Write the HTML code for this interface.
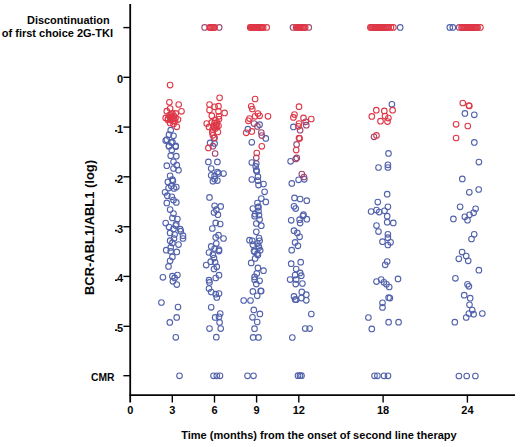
<!DOCTYPE html>
<html><head><meta charset="utf-8"><style>
html,body{margin:0;padding:0;background:#fff;}
body{width:520px;height:447px;overflow:hidden;font-family:"Liberation Sans",sans-serif;}
svg{display:block;}
</style></head><body>
<svg width="520" height="447" viewBox="0 0 520 447">
<g stroke="#050505" stroke-width="1.8" fill="none">
<line x1="130.2" y1="4" x2="130.2" y2="402.6"/>
<line x1="129.4" y1="395.15" x2="515" y2="395.15"/>
<line x1="123.4" y1="27.6" x2="130.2" y2="27.6" stroke-width="1.4"/>
<line x1="123.4" y1="77.3" x2="130.2" y2="77.3" stroke-width="1.4"/>
<line x1="123.4" y1="127.1" x2="130.2" y2="127.1" stroke-width="1.4"/>
<line x1="123.4" y1="176.8" x2="130.2" y2="176.8" stroke-width="1.4"/>
<line x1="123.4" y1="226.75" x2="130.2" y2="226.75" stroke-width="1.4"/>
<line x1="123.4" y1="276.4" x2="130.2" y2="276.4" stroke-width="1.4"/>
<line x1="123.4" y1="326.3" x2="130.2" y2="326.3" stroke-width="1.4"/>
<line x1="123.4" y1="375.7" x2="130.2" y2="375.7" stroke-width="1.4"/>
<line x1="172.3" y1="395.1" x2="172.3" y2="402.6" stroke-width="1.4"/>
<line x1="214.5" y1="395.1" x2="214.5" y2="402.6" stroke-width="1.4"/>
<line x1="256.6" y1="395.1" x2="256.6" y2="402.6" stroke-width="1.4"/>
<line x1="298.8" y1="395.1" x2="298.8" y2="402.6" stroke-width="1.4"/>
<line x1="383.1" y1="395.1" x2="383.1" y2="402.6" stroke-width="1.4"/>
<line x1="467.4" y1="395.1" x2="467.4" y2="402.6" stroke-width="1.4"/>
</g>
<g fill="none" stroke="#5262ac" stroke-width="1.1"><circle cx="170.7" cy="130.2" r="2.8" />
<circle cx="173.5" cy="135.8" r="2.8" />
<circle cx="169.0" cy="134.7" r="2.8" />
<circle cx="166.8" cy="139.7" r="2.8" />
<circle cx="171.3" cy="142.5" r="2.8" />
<circle cx="175.7" cy="145.9" r="2.8" />
<circle cx="169.0" cy="145.9" r="2.8" />
<circle cx="165.7" cy="140.6" r="2.8" />
<circle cx="172.4" cy="142.2" r="2.8" />
<circle cx="169.0" cy="146.2" r="2.8" />
<circle cx="175.7" cy="146.7" r="2.8" />
<circle cx="171.8" cy="150.1" r="2.8" />
<circle cx="170.7" cy="155.7" r="2.8" />
<circle cx="176.3" cy="156.2" r="2.8" />
<circle cx="173.5" cy="161.8" r="2.8" />
<circle cx="166.8" cy="165.7" r="2.8" />
<circle cx="176.8" cy="165.2" r="2.8" />
<circle cx="173.5" cy="168.5" r="2.8" />
<circle cx="178.5" cy="170.2" r="2.8" />
<circle cx="170.1" cy="175.8" r="2.8" />
<circle cx="172.4" cy="179.7" r="2.8" />
<circle cx="167.9" cy="181.9" r="2.8" />
<circle cx="171.3" cy="185.9" r="2.8" />
<circle cx="176.3" cy="187.0" r="2.8" />
<circle cx="168.5" cy="188.1" r="2.8" />
<circle cx="172.9" cy="181.1" r="2.8" />
<circle cx="174.0" cy="188.4" r="2.8" />
<circle cx="165.1" cy="192.3" r="2.8" />
<circle cx="167.3" cy="195.7" r="2.8" />
<circle cx="171.8" cy="196.8" r="2.8" />
<circle cx="173.5" cy="200.1" r="2.8" />
<circle cx="176.3" cy="202.4" r="2.8" />
<circle cx="166.8" cy="202.9" r="2.8" />
<circle cx="170.1" cy="209.6" r="2.8" />
<circle cx="173.5" cy="213.6" r="2.8" />
<circle cx="172.4" cy="218.0" r="2.8" />
<circle cx="177.4" cy="219.1" r="2.8" />
<circle cx="165.7" cy="223.1" r="2.8" />
<circle cx="176.3" cy="224.2" r="2.8" />
<circle cx="169.0" cy="227.0" r="2.8" />
<circle cx="180.2" cy="229.2" r="2.8" />
<circle cx="175.7" cy="225.6" r="2.8" />
<circle cx="173.5" cy="228.9" r="2.8" />
<circle cx="180.8" cy="231.2" r="2.8" />
<circle cx="170.1" cy="232.9" r="2.8" />
<circle cx="174.6" cy="234.5" r="2.8" />
<circle cx="183.0" cy="235.7" r="2.8" />
<circle cx="183.0" cy="238.5" r="2.8" />
<circle cx="174.0" cy="238.5" r="2.8" />
<circle cx="170.1" cy="240.7" r="2.8" />
<circle cx="172.4" cy="242.9" r="2.8" />
<circle cx="178.5" cy="244.6" r="2.8" />
<circle cx="170.7" cy="247.4" r="2.8" />
<circle cx="166.2" cy="250.2" r="2.8" />
<circle cx="170.7" cy="251.3" r="2.8" />
<circle cx="176.8" cy="251.9" r="2.8" />
<circle cx="172.4" cy="256.9" r="2.8" />
<circle cx="170.1" cy="260.8" r="2.8" />
<circle cx="168.5" cy="266.4" r="2.8" />
<circle cx="162.9" cy="277.3" r="2.8" />
<circle cx="172.4" cy="276.2" r="2.8" />
<circle cx="177.4" cy="275.1" r="2.8" />
<circle cx="174.6" cy="277.9" r="2.8" />
<circle cx="172.9" cy="281.3" r="2.8" />
<circle cx="176.8" cy="284.6" r="2.8" />
<circle cx="161.4" cy="302.5" r="2.8" />
<circle cx="178.0" cy="307.1" r="2.8" />
<circle cx="176.7" cy="317.4" r="2.8" />
<circle cx="169.8" cy="322.4" r="2.8" />
<circle cx="175.8" cy="337.3" r="2.8" />
<circle cx="179.5" cy="375.8" r="2.8" />
<circle cx="214.0" cy="138.1" r="2.8" />
<circle cx="210.1" cy="142.9" r="2.8" />
<circle cx="214.6" cy="143.4" r="2.8" />
<circle cx="208.4" cy="161.9" r="2.8" />
<circle cx="217.4" cy="161.9" r="2.8" />
<circle cx="211.2" cy="168.6" r="2.8" />
<circle cx="217.4" cy="172.0" r="2.8" />
<circle cx="223.5" cy="173.6" r="2.8" />
<circle cx="211.2" cy="175.3" r="2.8" />
<circle cx="214.6" cy="175.9" r="2.8" />
<circle cx="218.5" cy="173.4" r="2.8" />
<circle cx="212.9" cy="181.2" r="2.8" />
<circle cx="217.4" cy="180.6" r="2.8" />
<circle cx="214.6" cy="179.0" r="2.8" />
<circle cx="209.5" cy="197.4" r="2.8" />
<circle cx="214.6" cy="205.8" r="2.8" />
<circle cx="220.7" cy="206.4" r="2.8" />
<circle cx="216.3" cy="209.7" r="2.8" />
<circle cx="214.0" cy="212.5" r="2.8" />
<circle cx="217.9" cy="214.7" r="2.8" />
<circle cx="215.7" cy="222.9" r="2.8" />
<circle cx="220.2" cy="224.0" r="2.8" />
<circle cx="212.3" cy="228.5" r="2.8" />
<circle cx="218.5" cy="235.2" r="2.8" />
<circle cx="215.7" cy="237.4" r="2.8" />
<circle cx="223.5" cy="238.5" r="2.8" />
<circle cx="216.3" cy="243.6" r="2.8" />
<circle cx="211.2" cy="246.4" r="2.8" />
<circle cx="214.6" cy="248.6" r="2.8" />
<circle cx="219.0" cy="249.7" r="2.8" />
<circle cx="209.0" cy="252.5" r="2.8" />
<circle cx="212.9" cy="254.7" r="2.8" />
<circle cx="214.0" cy="258.1" r="2.8" />
<circle cx="219.0" cy="251.1" r="2.8" />
<circle cx="210.7" cy="261.7" r="2.8" />
<circle cx="206.2" cy="265.1" r="2.8" />
<circle cx="215.1" cy="262.3" r="2.8" />
<circle cx="216.8" cy="266.8" r="2.8" />
<circle cx="214.0" cy="269.0" r="2.8" />
<circle cx="219.0" cy="275.2" r="2.8" />
<circle cx="215.7" cy="278.0" r="2.8" />
<circle cx="209.0" cy="280.2" r="2.8" />
<circle cx="209.5" cy="282.4" r="2.8" />
<circle cx="209.0" cy="288.6" r="2.8" />
<circle cx="211.2" cy="292.0" r="2.8" />
<circle cx="215.7" cy="294.2" r="2.8" />
<circle cx="219.0" cy="293.6" r="2.8" />
<circle cx="216.8" cy="297.5" r="2.8" />
<circle cx="211.2" cy="307.3" r="2.8" />
<circle cx="220.2" cy="313.5" r="2.8" />
<circle cx="215.1" cy="317.4" r="2.8" />
<circle cx="219.0" cy="316.8" r="2.8" />
<circle cx="219.6" cy="322.4" r="2.8" />
<circle cx="209.5" cy="328.6" r="2.8" />
<circle cx="220.7" cy="328.6" r="2.8" />
<circle cx="216.3" cy="337.2" r="2.8" />
<circle cx="213.5" cy="375.8" r="2.8" />
<circle cx="216.8" cy="375.8" r="2.8" />
<circle cx="220.0" cy="375.8" r="2.8" />
<circle cx="247.5" cy="375.8" r="2.8" />
<circle cx="253.5" cy="375.8" r="2.8" />
<circle cx="259.6" cy="124.7" r="2.8" />
<circle cx="247.9" cy="129.2" r="2.8" />
<circle cx="265.8" cy="138.4" r="2.8" />
<circle cx="251.8" cy="142.3" r="2.8" />
<circle cx="251.8" cy="162.5" r="2.8" />
<circle cx="256.3" cy="163.6" r="2.8" />
<circle cx="255.7" cy="166.4" r="2.8" />
<circle cx="256.3" cy="170.3" r="2.8" />
<circle cx="256.8" cy="171.2" r="2.8" />
<circle cx="257.9" cy="176.7" r="2.8" />
<circle cx="251.8" cy="179.5" r="2.8" />
<circle cx="257.9" cy="180.7" r="2.8" />
<circle cx="258.5" cy="185.1" r="2.8" />
<circle cx="263.5" cy="184.0" r="2.8" />
<circle cx="264.6" cy="191.8" r="2.8" />
<circle cx="261.3" cy="198.6" r="2.8" />
<circle cx="265.8" cy="201.9" r="2.8" />
<circle cx="257.4" cy="203.0" r="2.8" />
<circle cx="258.5" cy="206.9" r="2.8" />
<circle cx="252.9" cy="208.6" r="2.8" />
<circle cx="258.5" cy="210.9" r="2.8" />
<circle cx="255.1" cy="214.2" r="2.8" />
<circle cx="257.9" cy="207.2" r="2.8" />
<circle cx="254.6" cy="216.2" r="2.8" />
<circle cx="259.0" cy="215.1" r="2.8" />
<circle cx="259.6" cy="219.5" r="2.8" />
<circle cx="256.3" cy="223.5" r="2.8" />
<circle cx="261.3" cy="225.7" r="2.8" />
<circle cx="256.3" cy="231.8" r="2.8" />
<circle cx="249.5" cy="240.2" r="2.8" />
<circle cx="252.3" cy="240.8" r="2.8" />
<circle cx="259.0" cy="238.0" r="2.8" />
<circle cx="259.6" cy="240.8" r="2.8" />
<circle cx="252.9" cy="244.7" r="2.8" />
<circle cx="257.4" cy="243.6" r="2.8" />
<circle cx="259.0" cy="247.5" r="2.8" />
<circle cx="254.0" cy="250.9" r="2.8" />
<circle cx="260.2" cy="250.3" r="2.8" />
<circle cx="257.4" cy="253.7" r="2.8" />
<circle cx="258.5" cy="246.1" r="2.8" />
<circle cx="254.6" cy="251.7" r="2.8" />
<circle cx="257.9" cy="255.1" r="2.8" />
<circle cx="255.1" cy="258.4" r="2.8" />
<circle cx="251.2" cy="262.9" r="2.8" />
<circle cx="257.9" cy="267.9" r="2.8" />
<circle cx="263.5" cy="270.7" r="2.8" />
<circle cx="256.8" cy="273.5" r="2.8" />
<circle cx="254.6" cy="276.9" r="2.8" />
<circle cx="259.6" cy="280.8" r="2.8" />
<circle cx="254.6" cy="279.7" r="2.8" />
<circle cx="256.3" cy="284.1" r="2.8" />
<circle cx="252.9" cy="291.4" r="2.8" />
<circle cx="260.7" cy="290.9" r="2.8" />
<circle cx="261.2" cy="291.0" r="2.8" />
<circle cx="257.2" cy="295.8" r="2.8" />
<circle cx="243.7" cy="300.5" r="2.8" />
<circle cx="250.5" cy="300.5" r="2.8" />
<circle cx="253.8" cy="309.9" r="2.8" />
<circle cx="259.9" cy="313.9" r="2.8" />
<circle cx="252.5" cy="317.3" r="2.8" />
<circle cx="257.2" cy="322.0" r="2.8" />
<circle cx="254.5" cy="328.7" r="2.8" />
<circle cx="253.1" cy="337.4" r="2.8" />
<circle cx="258.5" cy="337.4" r="2.8" />
<circle cx="293.4" cy="126.9" r="2.8" />
<circle cx="290.6" cy="161.3" r="2.8" />
<circle cx="298.6" cy="179.8" r="2.8" />
<circle cx="304.3" cy="179.3" r="2.8" />
<circle cx="291.8" cy="183.4" r="2.8" />
<circle cx="294.5" cy="197.9" r="2.8" />
<circle cx="300.1" cy="199.0" r="2.8" />
<circle cx="306.8" cy="200.7" r="2.8" />
<circle cx="294.0" cy="206.3" r="2.8" />
<circle cx="295.7" cy="208.6" r="2.8" />
<circle cx="303.5" cy="214.7" r="2.8" />
<circle cx="291.2" cy="220.3" r="2.8" />
<circle cx="299.6" cy="219.7" r="2.8" />
<circle cx="306.8" cy="219.2" r="2.8" />
<circle cx="300.1" cy="223.1" r="2.8" />
<circle cx="302.9" cy="216.1" r="2.8" />
<circle cx="294.0" cy="230.7" r="2.8" />
<circle cx="297.3" cy="232.9" r="2.8" />
<circle cx="299.6" cy="236.8" r="2.8" />
<circle cx="295.1" cy="242.4" r="2.8" />
<circle cx="297.9" cy="245.8" r="2.8" />
<circle cx="291.7" cy="250.2" r="2.8" />
<circle cx="291.2" cy="263.7" r="2.8" />
<circle cx="300.7" cy="262.2" r="2.8" />
<circle cx="296.2" cy="269.0" r="2.8" />
<circle cx="300.1" cy="272.9" r="2.8" />
<circle cx="295.1" cy="275.1" r="2.8" />
<circle cx="301.3" cy="275.7" r="2.8" />
<circle cx="290.1" cy="279.6" r="2.8" />
<circle cx="296.2" cy="279.6" r="2.8" />
<circle cx="295.7" cy="284.1" r="2.8" />
<circle cx="302.4" cy="283.5" r="2.8" />
<circle cx="301.8" cy="291.9" r="2.8" />
<circle cx="306.3" cy="294.7" r="2.8" />
<circle cx="294.0" cy="296.4" r="2.8" />
<circle cx="301.3" cy="298.1" r="2.8" />
<circle cx="296.2" cy="299.7" r="2.8" />
<circle cx="306.3" cy="300.3" r="2.8" />
<circle cx="295.1" cy="299.5" r="2.8" />
<circle cx="311.3" cy="314.0" r="2.8" />
<circle cx="305.2" cy="328.6" r="2.8" />
<circle cx="309.6" cy="328.6" r="2.8" />
<circle cx="292.3" cy="337.5" r="2.8" />
<circle cx="298.0" cy="375.7" r="2.8" />
<circle cx="300.0" cy="375.7" r="2.8" />
<circle cx="301.5" cy="375.7" r="2.8" />
<circle cx="391.9" cy="104.3" r="2.8" />
<circle cx="388.5" cy="153.4" r="2.8" />
<circle cx="378.5" cy="167.5" r="2.8" />
<circle cx="387.9" cy="164.8" r="2.8" />
<circle cx="387.9" cy="167.5" r="2.8" />
<circle cx="387.2" cy="194.2" r="2.8" />
<circle cx="377.8" cy="202.1" r="2.8" />
<circle cx="387.9" cy="206.8" r="2.8" />
<circle cx="371.1" cy="211.5" r="2.8" />
<circle cx="376.5" cy="210.1" r="2.8" />
<circle cx="379.2" cy="212.1" r="2.8" />
<circle cx="384.5" cy="210.8" r="2.8" />
<circle cx="387.2" cy="216.2" r="2.8" />
<circle cx="387.2" cy="222.2" r="2.8" />
<circle cx="393.3" cy="222.9" r="2.8" />
<circle cx="376.5" cy="225.6" r="2.8" />
<circle cx="378.5" cy="231.6" r="2.8" />
<circle cx="387.9" cy="234.3" r="2.8" />
<circle cx="387.9" cy="237.7" r="2.8" />
<circle cx="382.5" cy="241.7" r="2.8" />
<circle cx="390.6" cy="242.3" r="2.8" />
<circle cx="387.9" cy="245.0" r="2.8" />
<circle cx="387.2" cy="261.5" r="2.8" />
<circle cx="385.2" cy="264.8" r="2.8" />
<circle cx="398.0" cy="278.9" r="2.8" />
<circle cx="376.5" cy="281.6" r="2.8" />
<circle cx="381.2" cy="279.6" r="2.8" />
<circle cx="383.9" cy="282.3" r="2.8" />
<circle cx="386.5" cy="284.3" r="2.8" />
<circle cx="389.2" cy="287.0" r="2.8" />
<circle cx="388.6" cy="297.7" r="2.8" />
<circle cx="389.9" cy="298.1" r="2.8" />
<circle cx="382.5" cy="302.8" r="2.8" />
<circle cx="382.5" cy="307.4" r="2.8" />
<circle cx="368.4" cy="317.5" r="2.8" />
<circle cx="388.6" cy="322.2" r="2.8" />
<circle cx="398.6" cy="322.2" r="2.8" />
<circle cx="371.8" cy="328.9" r="2.8" />
<circle cx="374.5" cy="375.8" r="2.8" />
<circle cx="377.4" cy="375.8" r="2.8" />
<circle cx="384.0" cy="375.8" r="2.8" />
<circle cx="388.0" cy="375.8" r="2.8" />
<circle cx="464.9" cy="113.4" r="2.8" />
<circle cx="474.3" cy="114.8" r="2.8" />
<circle cx="474.3" cy="142.4" r="2.8" />
<circle cx="478.9" cy="162.1" r="2.8" />
<circle cx="462.3" cy="178.9" r="2.8" />
<circle cx="478.7" cy="189.5" r="2.8" />
<circle cx="469.3" cy="192.3" r="2.8" />
<circle cx="460.1" cy="206.8" r="2.8" />
<circle cx="475.6" cy="208.8" r="2.8" />
<circle cx="473.6" cy="212.8" r="2.8" />
<circle cx="469.5" cy="214.8" r="2.8" />
<circle cx="464.8" cy="216.8" r="2.8" />
<circle cx="467.5" cy="220.2" r="2.8" />
<circle cx="453.4" cy="218.9" r="2.8" />
<circle cx="474.2" cy="234.3" r="2.8" />
<circle cx="471.5" cy="239.0" r="2.8" />
<circle cx="462.1" cy="252.1" r="2.8" />
<circle cx="466.2" cy="256.1" r="2.8" />
<circle cx="458.8" cy="258.8" r="2.8" />
<circle cx="468.2" cy="260.8" r="2.8" />
<circle cx="478.9" cy="270.2" r="2.8" />
<circle cx="455.4" cy="278.3" r="2.8" />
<circle cx="467.5" cy="284.3" r="2.8" />
<circle cx="468.9" cy="286.3" r="2.8" />
<circle cx="464.2" cy="295.2" r="2.8" />
<circle cx="470.2" cy="298.2" r="2.8" />
<circle cx="469.5" cy="304.8" r="2.8" />
<circle cx="472.2" cy="310.1" r="2.8" />
<circle cx="468.9" cy="313.5" r="2.8" />
<circle cx="473.6" cy="314.2" r="2.8" />
<circle cx="466.2" cy="317.5" r="2.8" />
<circle cx="482.3" cy="313.5" r="2.8" />
<circle cx="454.8" cy="322.2" r="2.8" />
<circle cx="458.9" cy="376.0" r="2.8" />
<circle cx="466.7" cy="376.0" r="2.8" />
<circle cx="475.4" cy="376.0" r="2.8" /></g>
<g fill="none" stroke="#9a4674" stroke-width="1.1"><circle cx="212.9" cy="146.2" r="2.8" />
<circle cx="215.1" cy="153.5" r="2.8" />
<circle cx="254.0" cy="123.6" r="2.8" />
<circle cx="257.4" cy="126.4" r="2.8" />
<circle cx="261.3" cy="132.5" r="2.8" />
<circle cx="261.8" cy="135.6" r="2.8" />
<circle cx="256.3" cy="157.8" r="2.8" />
<circle cx="305.7" cy="121.8" r="2.8" />
<circle cx="306.3" cy="125.2" r="2.8" />
<circle cx="300.1" cy="130.2" r="2.8" />
<circle cx="296.6" cy="144.4" r="2.8" />
<circle cx="296.8" cy="157.9" r="2.8" />
<circle cx="295.7" cy="159.0" r="2.8" />
<circle cx="301.8" cy="174.1" r="2.8" />
<circle cx="304.0" cy="177.0" r="2.8" />
<circle cx="374.0" cy="136.8" r="2.8" /></g>
<g fill="none" stroke="#de3848" stroke-width="1.1"><circle cx="170.1" cy="85.1" r="2.8" />
<circle cx="169.4" cy="102.3" r="2.8" />
<circle cx="178.7" cy="104.5" r="2.8" />
<circle cx="181.5" cy="111.3" r="2.8" />
<circle cx="170.1" cy="108.5" r="2.8" />
<circle cx="166.8" cy="111.2" r="2.8" />
<circle cx="165.7" cy="117.9" r="2.8" />
<circle cx="170.1" cy="116.8" r="2.8" />
<circle cx="173.5" cy="119.0" r="2.8" />
<circle cx="178.0" cy="119.6" r="2.8" />
<circle cx="175.7" cy="113.4" r="2.8" />
<circle cx="172.4" cy="113.4" r="2.8" />
<circle cx="170.1" cy="122.9" r="2.8" />
<circle cx="176.8" cy="126.8" r="2.8" />
<circle cx="173.5" cy="124.0" r="2.8" />
<circle cx="171.3" cy="117.5" r="2.8" />
<circle cx="168.0" cy="120.0" r="2.8" />
<circle cx="175.0" cy="121.0" r="2.8" />
<circle cx="169.5" cy="115.0" r="2.8" />
<circle cx="172.0" cy="117.0" r="2.8" />
<circle cx="174.0" cy="116.0" r="2.8" />
<circle cx="170.5" cy="119.5" r="2.8" />
<circle cx="173.0" cy="121.0" r="2.8" />
<circle cx="168.0" cy="118.5" r="2.8" />
<circle cx="175.5" cy="118.0" r="2.8" />
<circle cx="171.5" cy="114.5" r="2.8" />
<circle cx="219.6" cy="97.8" r="2.8" />
<circle cx="209.5" cy="104.5" r="2.8" />
<circle cx="214.6" cy="106.8" r="2.8" />
<circle cx="218.5" cy="106.2" r="2.8" />
<circle cx="209.5" cy="110.1" r="2.8" />
<circle cx="218.5" cy="111.3" r="2.8" />
<circle cx="224.6" cy="112.9" r="2.8" />
<circle cx="211.8" cy="115.7" r="2.8" />
<circle cx="219.0" cy="116.3" r="2.8" />
<circle cx="219.0" cy="119.1" r="2.8" />
<circle cx="215.1" cy="120.2" r="2.8" />
<circle cx="211.8" cy="122.4" r="2.8" />
<circle cx="206.7" cy="123.6" r="2.8" />
<circle cx="216.3" cy="124.7" r="2.8" />
<circle cx="209.0" cy="126.9" r="2.8" />
<circle cx="218.5" cy="125.8" r="2.8" />
<circle cx="214.0" cy="127.5" r="2.8" />
<circle cx="217.9" cy="132.0" r="2.8" />
<circle cx="212.3" cy="132.5" r="2.8" />
<circle cx="212.9" cy="135.3" r="2.8" />
<circle cx="214.6" cy="137.8" r="2.8" />
<circle cx="208.4" cy="147.9" r="2.8" />
<circle cx="214.5" cy="123.0" r="2.8" />
<circle cx="216.5" cy="126.5" r="2.8" />
<circle cx="213.5" cy="126.0" r="2.8" />
<circle cx="215.5" cy="128.5" r="2.8" />
<circle cx="217.0" cy="122.5" r="2.8" />
<circle cx="212.5" cy="129.5" r="2.8" />
<circle cx="255.1" cy="99.0" r="2.8" />
<circle cx="251.2" cy="106.3" r="2.8" />
<circle cx="252.3" cy="109.0" r="2.8" />
<circle cx="257.9" cy="113.5" r="2.8" />
<circle cx="259.6" cy="115.8" r="2.8" />
<circle cx="255.1" cy="116.3" r="2.8" />
<circle cx="268.0" cy="116.3" r="2.8" />
<circle cx="249.5" cy="118.6" r="2.8" />
<circle cx="248.4" cy="120.8" r="2.8" />
<circle cx="246.2" cy="132.8" r="2.8" />
<circle cx="251.8" cy="131.4" r="2.8" />
<circle cx="261.8" cy="146.3" r="2.8" />
<circle cx="256.8" cy="153.0" r="2.8" />
<circle cx="299.0" cy="106.7" r="2.8" />
<circle cx="294.5" cy="114.6" r="2.8" />
<circle cx="293.4" cy="117.4" r="2.8" />
<circle cx="303.5" cy="117.9" r="2.8" />
<circle cx="311.3" cy="119.0" r="2.8" />
<circle cx="299.0" cy="123.5" r="2.8" />
<circle cx="298.5" cy="126.3" r="2.8" />
<circle cx="299.0" cy="138.1" r="2.8" />
<circle cx="299.6" cy="138.4" r="2.8" />
<circle cx="296.2" cy="150.1" r="2.8" />
<circle cx="376.3" cy="110.2" r="2.8" />
<circle cx="384.3" cy="110.9" r="2.8" />
<circle cx="392.6" cy="110.2" r="2.8" />
<circle cx="371.8" cy="116.4" r="2.8" />
<circle cx="385.0" cy="116.1" r="2.8" />
<circle cx="388.4" cy="118.1" r="2.8" />
<circle cx="380.5" cy="121.2" r="2.8" />
<circle cx="387.5" cy="121.6" r="2.8" />
<circle cx="376.5" cy="135.4" r="2.8" />
<circle cx="462.8" cy="103.0" r="2.8" />
<circle cx="468.9" cy="105.5" r="2.8" />
<circle cx="469.3" cy="106.0" r="2.8" />
<circle cx="456.1" cy="124.3" r="2.8" />
<circle cx="467.8" cy="126.0" r="2.8" />
<circle cx="456.1" cy="138.0" r="2.8" /></g>
<g fill="none" stroke="#5262ac" stroke-width="1.1"><circle cx="400.2" cy="27.4" r="2.8" />
<circle cx="449.8" cy="27.4" r="2.8" />
<circle cx="452.8" cy="27.4" r="2.8" /></g>
<g fill="none" stroke="#9c4c74" stroke-width="1.1"><circle cx="204.6" cy="27.4" r="2.8" />
<circle cx="219.2" cy="27.4" r="2.8" />
<circle cx="293.0" cy="27.4" r="2.8" />
<circle cx="308.8" cy="27.4" r="2.8" />
<circle cx="459.2" cy="27.4" r="2.8" /></g>
<g fill="none" stroke="#de3848" stroke-width="1.1"><circle cx="209.6" cy="27.4" r="2.8" />
<circle cx="210.6" cy="27.4" r="2.8" />
<circle cx="211.6" cy="27.4" r="2.8" />
<circle cx="212.6" cy="27.4" r="2.8" />
<circle cx="213.6" cy="27.4" r="2.8" />
<circle cx="214.6" cy="27.4" r="2.8" />
<circle cx="250.2" cy="27.4" r="2.8" />
<circle cx="251.2" cy="27.4" r="2.8" />
<circle cx="252.2" cy="27.4" r="2.8" />
<circle cx="253.2" cy="27.4" r="2.8" />
<circle cx="254.2" cy="27.4" r="2.8" />
<circle cx="255.2" cy="27.4" r="2.8" />
<circle cx="256.2" cy="27.4" r="2.8" />
<circle cx="257.2" cy="27.4" r="2.8" />
<circle cx="258.2" cy="27.4" r="2.8" />
<circle cx="259.2" cy="27.4" r="2.8" />
<circle cx="260.2" cy="27.4" r="2.8" />
<circle cx="261.2" cy="27.4" r="2.8" />
<circle cx="262.2" cy="27.4" r="2.8" />
<circle cx="263.2" cy="27.4" r="2.8" />
<circle cx="266.7" cy="27.4" r="2.8" />
<circle cx="296.2" cy="27.4" r="2.8" />
<circle cx="297.2" cy="27.4" r="2.8" />
<circle cx="298.2" cy="27.4" r="2.8" />
<circle cx="299.2" cy="27.4" r="2.8" />
<circle cx="300.2" cy="27.4" r="2.8" />
<circle cx="301.2" cy="27.4" r="2.8" />
<circle cx="302.2" cy="27.4" r="2.8" />
<circle cx="303.2" cy="27.4" r="2.8" />
<circle cx="304.2" cy="27.4" r="2.8" />
<circle cx="305.2" cy="27.4" r="2.8" />
<circle cx="370.4" cy="27.4" r="2.8" />
<circle cx="371.4" cy="27.4" r="2.8" />
<circle cx="372.4" cy="27.4" r="2.8" />
<circle cx="373.4" cy="27.4" r="2.8" />
<circle cx="374.4" cy="27.4" r="2.8" />
<circle cx="375.4" cy="27.4" r="2.8" />
<circle cx="376.4" cy="27.4" r="2.8" />
<circle cx="377.4" cy="27.4" r="2.8" />
<circle cx="378.4" cy="27.4" r="2.8" />
<circle cx="379.4" cy="27.4" r="2.8" />
<circle cx="380.4" cy="27.4" r="2.8" />
<circle cx="381.4" cy="27.4" r="2.8" />
<circle cx="382.4" cy="27.4" r="2.8" />
<circle cx="383.4" cy="27.4" r="2.8" />
<circle cx="384.4" cy="27.4" r="2.8" />
<circle cx="385.4" cy="27.4" r="2.8" />
<circle cx="386.4" cy="27.4" r="2.8" />
<circle cx="387.4" cy="27.4" r="2.8" />
<circle cx="388.6" cy="27.4" r="2.8" />
<circle cx="391.0" cy="27.4" r="2.8" />
<circle cx="393.4" cy="27.4" r="2.8" />
<circle cx="461.6" cy="27.4" r="2.8" />
<circle cx="462.6" cy="27.4" r="2.8" />
<circle cx="463.6" cy="27.4" r="2.8" />
<circle cx="464.6" cy="27.4" r="2.8" />
<circle cx="465.6" cy="27.4" r="2.8" />
<circle cx="466.6" cy="27.4" r="2.8" />
<circle cx="467.6" cy="27.4" r="2.8" />
<circle cx="468.6" cy="27.4" r="2.8" />
<circle cx="469.6" cy="27.4" r="2.8" />
<circle cx="470.6" cy="27.4" r="2.8" />
<circle cx="471.6" cy="27.4" r="2.8" />
<circle cx="472.6" cy="27.4" r="2.8" />
<circle cx="473.6" cy="27.4" r="2.8" />
<circle cx="474.6" cy="27.4" r="2.8" />
<circle cx="475.6" cy="27.4" r="2.8" />
<circle cx="476.6" cy="27.4" r="2.8" />
<circle cx="477.6" cy="27.4" r="2.8" />
<circle cx="480.4" cy="27.4" r="2.8" /></g>
<text x="123.2" y="83.2" font-size="11" text-anchor="end" font-family="Liberation Sans, sans-serif" font-weight="bold" fill="#050505">0</text>
<text x="123.2" y="133.0" font-size="11" text-anchor="end" font-family="Liberation Sans, sans-serif" font-weight="bold" fill="#050505">1</text>
<rect x="115.0" y="130.1" width="2.3" height="1.6" fill="#050505"/>
<text x="123.2" y="182.7" font-size="11" text-anchor="end" font-family="Liberation Sans, sans-serif" font-weight="bold" fill="#050505">2</text>
<rect x="115.0" y="179.8" width="2.3" height="1.6" fill="#050505"/>
<text x="123.2" y="232.7" font-size="11" text-anchor="end" font-family="Liberation Sans, sans-serif" font-weight="bold" fill="#050505">3</text>
<rect x="115.0" y="229.8" width="2.3" height="1.6" fill="#050505"/>
<text x="123.2" y="282.3" font-size="11" text-anchor="end" font-family="Liberation Sans, sans-serif" font-weight="bold" fill="#050505">4</text>
<rect x="115.0" y="279.4" width="2.3" height="1.6" fill="#050505"/>
<text x="123.2" y="332.2" font-size="11" text-anchor="end" font-family="Liberation Sans, sans-serif" font-weight="bold" fill="#050505">5</text>
<rect x="115.0" y="329.3" width="2.3" height="1.6" fill="#050505"/>
<text x="114.5" y="380.9" font-size="11" text-anchor="end" font-family="Liberation Sans, sans-serif" font-weight="bold" fill="#050505" textLength="23.5" lengthAdjust="spacingAndGlyphs">CMR</text>
<text x="130.2" y="413.6" font-size="11" text-anchor="middle" font-family="Liberation Sans, sans-serif" font-weight="bold" fill="#050505">0</text>
<text x="172.3" y="413.6" font-size="11" text-anchor="middle" font-family="Liberation Sans, sans-serif" font-weight="bold" fill="#050505">3</text>
<text x="214.5" y="413.6" font-size="11" text-anchor="middle" font-family="Liberation Sans, sans-serif" font-weight="bold" fill="#050505">6</text>
<text x="256.6" y="413.6" font-size="11" text-anchor="middle" font-family="Liberation Sans, sans-serif" font-weight="bold" fill="#050505">9</text>
<text x="298.8" y="413.6" font-size="11" text-anchor="middle" font-family="Liberation Sans, sans-serif" font-weight="bold" fill="#050505">12</text>
<text x="383.1" y="413.6" font-size="11" text-anchor="middle" font-family="Liberation Sans, sans-serif" font-weight="bold" fill="#050505">18</text>
<text x="467.4" y="413.6" font-size="11" text-anchor="middle" font-family="Liberation Sans, sans-serif" font-weight="bold" fill="#050505">24</text>
<text x="181.2" y="438.6" font-size="11.4" font-family="Liberation Sans, sans-serif" font-weight="bold" fill="#050505" textLength="275.5" lengthAdjust="spacingAndGlyphs">Time (months) from the onset of second line therapy</text>
<text x="27" y="23.85" font-size="11" font-family="Liberation Sans, sans-serif" font-weight="bold" fill="#050505" textLength="82.6" lengthAdjust="spacingAndGlyphs">Discontinuation</text>
<text x="1.8" y="37" font-size="11" font-family="Liberation Sans, sans-serif" font-weight="bold" fill="#050505" textLength="111.2" lengthAdjust="spacingAndGlyphs">of first choice 2G-TKI</text>
<text transform="translate(94.3,295) rotate(-90)" x="0" y="0" font-size="13" font-family="Liberation Sans, sans-serif" font-weight="bold" fill="#050505" textLength="135" lengthAdjust="spacingAndGlyphs">BCR-ABL1/ABL1 (log)</text>
</svg>
</body></html>
